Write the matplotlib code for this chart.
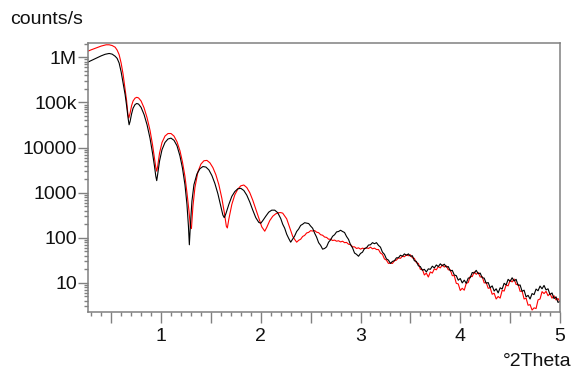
import matplotlib
matplotlib.use('Agg')
import matplotlib.pyplot as plt
import numpy as np
from matplotlib.ticker import LogLocator, MultipleLocator, NullFormatter, FixedLocator

plt.rcParams['font.family'] = ['Liberation Sans', 'DejaVu Sans']

# ---------------- data ----------------
# low-angle part (smooth fringes)
black_x_low = [0.27, 0.30, 0.35, 0.40, 0.44, 0.48, 0.51, 0.54, 0.56, 0.58, 0.60, 0.62, 0.64, 0.655,
               0.67, 0.68, 0.69, 0.705, 0.72, 0.74, 0.757, 0.775, 0.80, 0.83, 0.86, 0.89, 0.915,
               0.935, 0.948, 0.957, 0.967, 0.985, 1.01, 1.04, 1.07, 1.10, 1.13, 1.16, 1.19, 1.215,
               1.24, 1.26, 1.275, 1.284, 1.295, 1.31, 1.33, 1.36, 1.39, 1.42, 1.45, 1.48, 1.51,
               1.54, 1.57, 1.60, 1.62, 1.634, 1.65, 1.68, 1.71, 1.74, 1.77, 1.80, 1.83, 1.86, 1.89,
               1.92, 1.95, 1.98, 2.00, 2.02, 2.05, 2.08, 2.11, 2.14, 2.17]
black_y_low = [7.9e5, 8.5e5, 9.6e5, 1.08e6, 1.17e6, 1.22e6, 1.18e6, 1.06e6, 9.5e5, 7.5e5, 4.8e5,
               2.7e5, 1.5e5, 8.5e4, 4.5e4, 3.2e4, 3.8e4, 5.6e4, 7.5e4, 9.0e4, 9.5e4, 9.2e4, 7.8e4,
               5.4e4, 3.2e4, 1.6e4, 7.5e3, 3.8e3, 2.3e3, 1.85e3, 2.6e3, 5.0e3, 9.0e3, 1.3e4,
               1.55e4, 1.62e4, 1.45e4, 1.1e4, 6.5e3, 3.5e3, 1.5e3, 550, 180, 70, 200, 650, 1500,
               2600, 3400, 3800, 3700, 3200, 2400, 1600, 950, 500, 320, 280, 340, 550, 830, 1060,
               1220, 1250, 1120, 880, 620, 410, 280, 220, 210, 240, 300, 370, 410, 410, 360]

red_x_low = [0.27, 0.30, 0.35, 0.40, 0.45, 0.48, 0.51, 0.54, 0.56, 0.58, 0.60, 0.62, 0.64, 0.655,
             0.668, 0.677, 0.69, 0.705, 0.72, 0.74, 0.757, 0.775, 0.80, 0.83, 0.86, 0.89, 0.915,
             0.935, 0.948, 0.957, 0.967, 0.985, 1.01, 1.04, 1.07, 1.10, 1.13, 1.16, 1.19, 1.215,
             1.24, 1.26, 1.28, 1.295, 1.305, 1.32, 1.34, 1.37, 1.40, 1.43, 1.46, 1.49, 1.52,
             1.55, 1.58, 1.61, 1.635, 1.655, 1.665, 1.68, 1.71, 1.74, 1.77, 1.80, 1.83, 1.86,
             1.89, 1.92, 1.95, 1.98, 2.01, 2.04, 2.06, 2.09, 2.12, 2.15, 2.18]
red_y_low = [1.38e6, 1.47e6, 1.62e6, 1.78e6, 1.9e6, 1.9e6, 1.83e6, 1.68e6, 1.45e6, 1.15e6, 7.5e5,
             4.2e5, 2.0e5, 1.1e5, 5.5e4, 4.5e4, 5.8e4, 8.5e4, 1.08e5, 1.25e5, 1.3e5, 1.26e5,
             1.08e5, 7.6e4, 4.6e4, 2.4e4, 1.15e4, 5.8e3, 3.6e3, 3.0e3, 3.9e3, 7.5e3, 1.3e4,
             1.8e4, 2.05e4, 2.05e4, 1.8e4, 1.35e4, 8.5e3, 4.8e3, 2.3e3, 1.0e3, 400, 170, 160,
             500, 1300, 2900, 4300, 5100, 5200, 4600, 3600, 2500, 1500, 750, 360, 180, 165, 260,
             550, 900, 1200, 1420, 1480, 1300, 1000, 680, 430, 270, 175, 140, 170, 240, 300,
             340, 360]

# high-angle part, 0.02 deg scan step from 2.20 to 5.00 deg
scan_x_high = np.linspace(2.20, 5.00, 141)
black_y_high = [268, 200, 163, 120, 97, 80, 94, 110, 138, 157, 188, 200, 216, 212, 207, 182, 163,
                127, 103, 78, 68, 56, 58, 63, 80, 90, 108, 117, 135, 138, 147, 138, 131, 107, 92,
                70, 60, 46, 43, 39, 45, 48, 58, 60, 69, 70, 78, 74, 78, 68, 62, 48, 43, 34, 32, 27,
                30, 31, 36, 36, 41, 39, 44, 41, 44, 39, 40, 31, 30, 24, 23, 19, 20, 17.5, 20.5, 20,
                23.5, 21.5, 25, 23, 26.5, 24, 26, 22.5, 23, 18.5, 19, 15, 14.5, 11.5, 12.5, 10,
                11.5, 9.8, 12.8, 13, 17, 16.5, 19, 16, 16.5, 13, 12.8, 9.8, 10.2, 7.8, 8.6, 6.6,
                7.4, 6.0, 7.8, 7.3, 9.8, 9.0, 12, 10.8, 13, 11, 12, 8.8, 9.0, 6.5, 6.9, 4.9, 5.3,
                4.4, 5.8, 5.5, 7.3, 6.7, 8.5, 7.4, 8.8, 7.0, 7.4, 5.5, 6.0, 4.5, 4.9, 3.7, 3.9]
red_y_high = [362, 352, 305, 263, 196, 148, 108, 92, 80, 88, 93, 107, 113, 128, 132, 144, 141, 145,
              133, 130, 117, 114, 104, 102, 93, 93, 87, 89, 84, 86, 81, 84, 78, 79, 72, 71, 63, 63,
              58, 60, 56, 59, 57, 60, 58, 62, 57, 59, 55, 55, 46, 43, 34, 32, 27, 27.5, 27, 31,
              32, 36, 35, 39, 38, 42, 40, 42, 36, 35, 28, 27, 20, 20, 15, 16.5, 13.5, 17.5, 16.5,
              20.5, 19.5, 23, 21.5, 25, 22.5, 24, 19.5, 19.5, 14.5, 14.5, 9.8, 9.5, 6.8, 7.6, 6.9,
              9.8, 10.2, 14, 13.8, 17.5, 15.5, 17, 13.5, 13.8, 10, 10.2, 7.6, 7.8, 5.6, 5.9, 4.4,
              5.0, 4.6, 6.8, 6.6, 9.0, 8.6, 11.5, 10.5, 12.2, 9.2, 9.3, 6.5, 6.6, 4.4, 4.6, 3.2,
              3.3, 2.5, 2.8, 2.7, 4.2, 4.4, 6.4, 5.8, 6.5, 5.2, 5.8, 4.6, 5.2, 4.2, 4.5, 3.8]

black_x = list(black_x_low) + list(scan_x_high)
black_y = list(black_y_low) + list(black_y_high)
red_x = list(red_x_low) + list(scan_x_high)
red_y = list(red_y_low) + list(red_y_high)

y_ticks = [10, 100, 1000, 1e4, 1e5, 1e6]
y_tick_labels = ['10', '100', '1000', '10000', '100k', '1M']
x_ticks = [0.5, 1, 1.5, 2, 2.5, 3, 3.5, 4, 4.5, 5]
x_tick_labels = ['', '1', '', '2', '', '3', '', '4', '', '5']

# ---------------- figure ----------------
W, H = 573, 372
fig = plt.figure(figsize=(W / 100, H / 100), dpi=100)
ax = fig.add_axes([88 / W, 1 - 311.7 / H, (560 - 88) / W, (311.7 - 43.3) / H])

ax.plot(red_x, red_y, color='#ff0000', lw=0.8)
ax.plot(black_x, black_y, color='black', lw=0.8)

ax.set_yscale('log')
ax.set_xlim(0.268, 5.0)
ax.set_ylim(2.3, 2.05e6)

ax.yaxis.set_major_locator(FixedLocator(y_ticks))
ax.set_yticklabels(y_tick_labels)
ax.yaxis.set_minor_locator(LogLocator(base=10, subs=np.arange(2, 10)))
ax.yaxis.set_minor_formatter(NullFormatter())

ax.xaxis.set_major_locator(FixedLocator(x_ticks))
ax.set_xticklabels(x_tick_labels)
ax.xaxis.set_minor_locator(MultipleLocator(0.1))

spine_col = '#808080'
for s in ax.spines.values():
    s.set_color(spine_col)
    s.set_linewidth(1.1)

ax.tick_params(axis='both', which='both', direction='out', color=spine_col,
               labelcolor='#111111', labelsize=14, width=1.0)
ax.tick_params(axis='x', which='major', length=8, pad=4)
ax.tick_params(axis='x', which='minor', length=3)
ax.tick_params(axis='y', which='major', length=7, pad=1)
ax.tick_params(axis='y', which='minor', length=3)
ax.tick_params(top=False, right=False)

fig.text(10 / W, 1 - 20 / H, 'counts/s', ha='left', va='center', fontsize=14, color='#111111')
fig.text(571 / W, 1 - 361 / H, '°2Theta', ha='right', va='center', fontsize=14, color='#111111')

fig.savefig('out.png', dpi=100)
